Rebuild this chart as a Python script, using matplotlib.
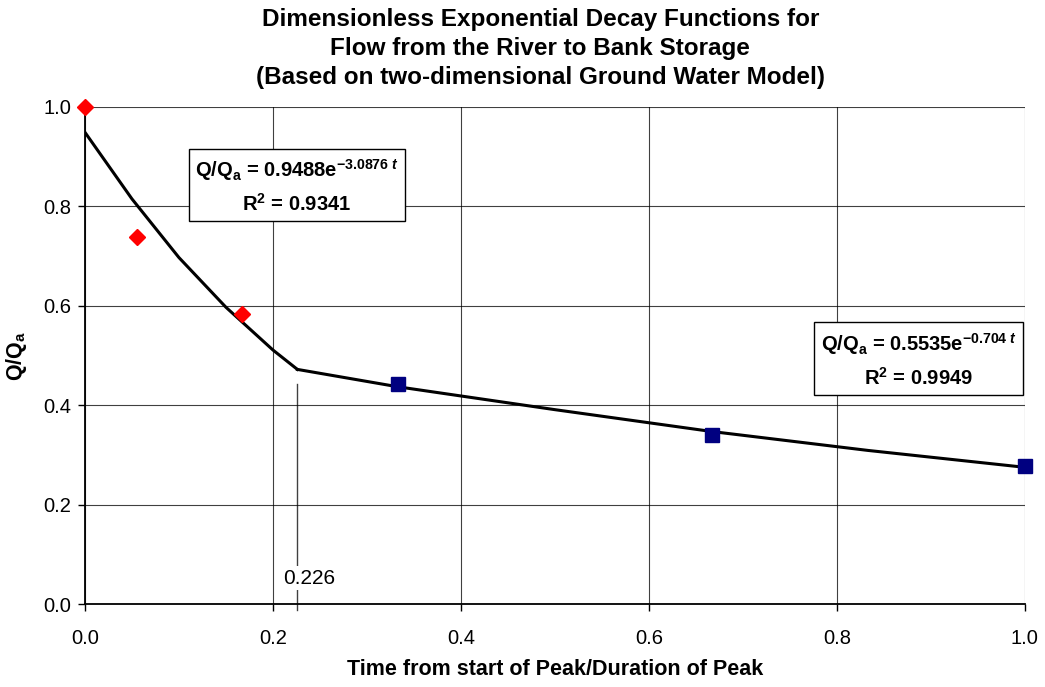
import matplotlib
matplotlib.use("Agg")
import matplotlib.pyplot as plt

plt.rcParams["font.family"] = ["Liberation Sans", "DejaVu Sans"]
plt.rcParams["mathtext.fontset"] = "custom"
plt.rcParams["mathtext.rm"] = "Liberation Sans"
plt.rcParams["mathtext.bf"] = "Liberation Sans:bold"
plt.rcParams["mathtext.it"] = "Liberation Sans:italic"
plt.rcParams["mathtext.bfit"] = "Liberation Sans:bold:italic"

# observed points (river -> bank storage)
t_early = [0.0, 0.0556, 0.1667]
q_early = [1.0, 0.739, 0.583]
t_late = [0.3333, 0.6667, 1.0]
q_late = [0.442, 0.340, 0.277]

# fitted trend curves
t_fit1 = [0.0, 0.05, 0.10, 0.15, 0.20, 0.226]
q_fit1 = [0.949, 0.815, 0.697, 0.597, 0.511, 0.472]
t_fit2 = [0.226, 0.333, 0.50, 0.667, 0.833, 1.0]
q_fit2 = [0.472, 0.437, 0.391, 0.347, 0.309, 0.275]

t_break = 0.226

fig = plt.figure(figsize=(10.45, 6.87), dpi=100)
ax = fig.add_axes([0.0813, 0.1208, 0.8995, 0.7235])

ax.set_xlim(0, 1.0)
ax.set_ylim(0, 1.0)
ax.set_xticks([0.0, 0.2, 0.4, 0.6, 0.8, 1.0])
ax.set_yticks([0.0, 0.2, 0.4, 0.6, 0.8, 1.0])
ax.set_xticklabels(["0.0", "0.2", "0.4", "0.6", "0.8", "1.0"])
ax.set_yticklabels(["0.0", "0.2", "0.4", "0.6", "0.8", "1.0"])
ax.grid(True, color="black", lw=0.8, alpha=0.75)
ax.set_axisbelow(True)
for s in ["top", "right"]:
    ax.spines[s].set_visible(False)
for s in ["left", "bottom"]:
    ax.spines[s].set_linewidth(1.3)
ax.tick_params(direction="out", length=5, width=1, labelsize=14.5)
ax.tick_params(axis="x", pad=13)
ax.tick_params(axis="y", pad=5)

ax.plot(t_fit1, q_fit1, color="black", lw=2.2, zorder=3)
ax.plot(t_fit2, q_fit2, color="black", lw=2.2, zorder=3)
ax.plot(t_early, q_early, linestyle="none", marker="D", ms=8.5, color="#ff0000",
        markeredgecolor="#ff0000", zorder=4, clip_on=False)
ax.plot(t_late, q_late, linestyle="none", marker="s", ms=10.5, color="#000080",
        markeredgecolor="#000080", zorder=4, clip_on=False)

# break point marker line
ax.plot([t_break, t_break], [-0.012, 0.443], color="black", lw=1, alpha=0.75,
        clip_on=False, zorder=2)
ax.text(0.239, 0.052, "0.226", fontsize=15, ha="center", va="center",
        bbox=dict(facecolor="white", edgecolor="none", pad=2), zorder=3)

box = dict(boxstyle="square,pad=0.32", facecolor="white", edgecolor="black", lw=1)
ax.text(0.2255, 0.841,
        "Q/Q$_\\mathbf{a}$ = 0.9488e$^{\\mathbf{-3.0876}\\ \\mathbfit{t}}$\n"
        "R$^\\mathbf{2}$ = 0.9341",
        fontsize=14.5, fontweight="bold", ha="center", va="center",
        linespacing=1.55, bbox=box, zorder=5)
ax.text(0.887, 0.491,
        "Q/Q$_\\mathbf{a}$ = 0.5535e$^{\\mathbf{-0.704}\\ \\mathbfit{t}}$\n"
        "R$^\\mathbf{2}$ = 0.9949",
        fontsize=14.5, fontweight="bold", ha="center", va="center",
        linespacing=1.55, bbox=box, zorder=5)

ax.set_xlabel("Time from start of Peak/Duration of Peak", fontsize=15.5,
              fontweight="bold", labelpad=8)
ax.set_ylabel("Q/Q$_\\mathbf{a}$", fontsize=15.5, fontweight="bold", labelpad=10)

fig.text(0.517, 0.930,
         "Dimensionless Exponential Decay Functions for\n"
         "Flow from the River to Bank Storage\n"
         "(Based on two-dimensional Ground Water Model)",
         ha="center", va="center", fontsize=17.5, fontweight="bold",
         linespacing=1.33)

fig.savefig("out.png", dpi=100, facecolor="white")
